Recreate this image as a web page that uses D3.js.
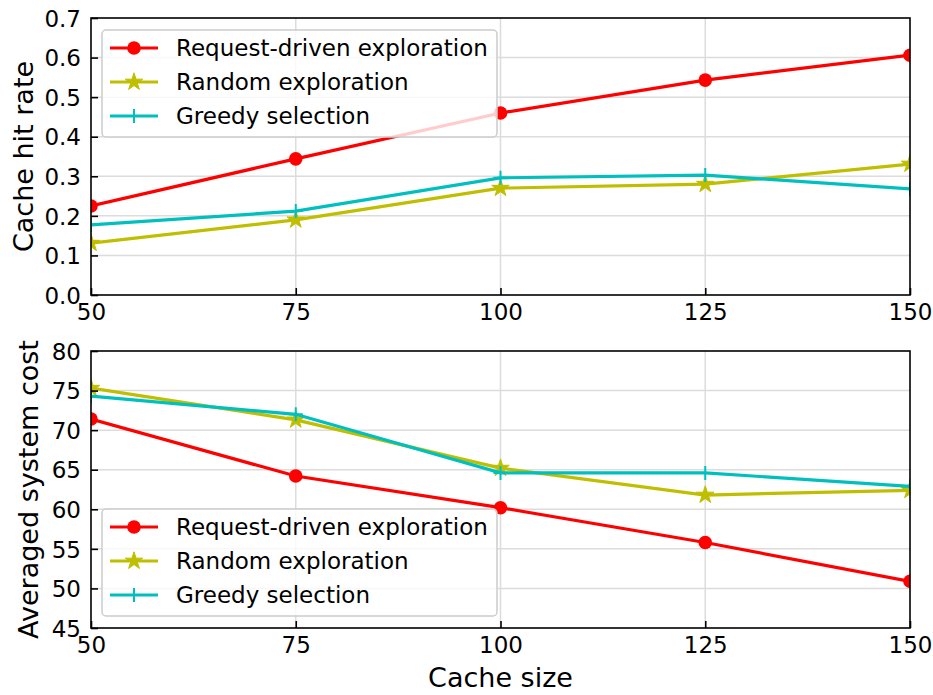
<!DOCTYPE html>
<html>
<head>
<meta charset="utf-8">
<script src="https://cdn.jsdelivr.net/npm/d3@7"></script>
<style>
  body { margin: 0; background: #fff; }
  svg text { font-family: "DejaVu Sans", sans-serif; fill: #000; }
</style>
</head>
<body>
<svg id="chart" width="933" height="695"></svg>
<script>
// data
let cacheSizes = [50, 75, 100, 125, 150]

let hitRequest = [0.225, 0.344, 0.46, 0.543, 0.606]
let hitRandom = [0.131, 0.190, 0.270, 0.280, 0.331]
let hitGreedy = [0.177, 0.212, 0.296, 0.303, 0.268]

let costRequest = [71.4, 64.2, 60.2, 55.8, 50.9]
let costRandom = [75.3, 71.3, 65.2, 61.8, 62.4]
let costGreedy = [74.3, 72.0, 64.6, 64.6, 62.9]

let seriesNames = ['Request-driven exploration', 'Random exploration', 'Greedy selection']
let seriesColors = ['#ff0000', '#bfbf00', '#00bfbf']
let seriesMarkers = ['circle', 'star', 'plus']

let hitTicks = [0, 0.1, 0.2, 0.3, 0.4, 0.5, 0.6, 0.7]
let costTicks = [45, 50, 55, 60, 65, 70, 75, 80]

let svg = d3.select('#chart')

let left = 91, right = 910

let x = d3.scaleLinear().domain([50, 150]).range([left, right])

let drawMarker = (g, type, color, cx, cy) => {
	if(type === 'circle') {
		g.append('circle')
			.attr('cx', cx).attr('cy', cy).attr('r', 6.8)
			.attr('fill', color)
	} else if(type === 'star') {
		g.append('path')
			.attr('d', d3.symbol().type(d3.symbolStar).size(95)())
			.attr('transform', `translate(${cx},${cy})`)
			.attr('fill', color)
			.attr('stroke', color)
			.attr('stroke-width', 1)
	} else {
		g.append('path')
			.attr('d', `M${cx-7},${cy}H${cx+7}M${cx},${cy-7}V${cy+7}`)
			.attr('stroke', color)
			.attr('stroke-width', 2)
	}
}

let drawPanel = (id, top, bottom, domain, ticks, fmt, series, ylabel, labelX, legendY) => {

	let y = d3.scaleLinear().domain(domain).range([bottom, top])

	let g = svg.append('g')

	g.append('clipPath').attr('id', 'clip-' + id)
		.append('rect')
		.attr('x', left).attr('y', top)
		.attr('width', right - left).attr('height', bottom - top)

	// grid
	g.append('g').selectAll('line.gx')
		.data(cacheSizes.slice(1, -1))
		.enter().append('line')
		.attr('x1', d => x(d)).attr('x2', d => x(d))
		.attr('y1', top).attr('y2', bottom)
		.attr('stroke', '#dcdcdc').attr('stroke-width', 1.5)

	g.append('g').selectAll('line.gy')
		.data(ticks.slice(1, -1))
		.enter().append('line')
		.attr('x1', left).attr('x2', right)
		.attr('y1', d => y(d)).attr('y2', d => y(d))
		.attr('stroke', '#dcdcdc').attr('stroke-width', 1.5)

	// series
	let plot = g.append('g').attr('clip-path', `url(#clip-${id})`)

	let line = d3.line()
		.x((d, i) => x(cacheSizes[i]))
		.y(d => y(d))

	series.forEach((s, k) => {
		plot.append('path')
			.attr('d', line(s))
			.attr('fill', 'none')
			.attr('stroke', seriesColors[k])
			.attr('stroke-width', 3.2)
		s.forEach((v, i) => drawMarker(plot, seriesMarkers[k], seriesColors[k], x(cacheSizes[i]), y(v)))
	})

	// frame
	g.append('rect')
		.attr('x', left).attr('y', top)
		.attr('width', right - left).attr('height', bottom - top)
		.attr('fill', 'none').attr('stroke', '#000').attr('stroke-width', 1.6)

	// axes, ticks pointing inward
	let yAxis = d3.axisLeft(y).tickValues(ticks).tickFormat(fmt).tickSizeInner(-7).tickSizeOuter(0)
	let ya = g.append('g').attr('transform', `translate(${left},0)`).call(yAxis)

	let xAxis = d3.axisBottom(x).tickValues(cacheSizes).tickSizeInner(-7).tickSizeOuter(0)
	let xa = g.append('g').attr('transform', `translate(0,${bottom})`).call(xAxis)

	;[ya, xa].forEach(a => {
		a.select('.domain').remove()
		a.selectAll('line').attr('stroke', '#000').attr('stroke-width', 1.6)
		a.selectAll('text').style('font-size', '23px').style('font-family', '"DejaVu Sans", sans-serif')
	})
	ya.selectAll('text').attr('dy', '0.36em').attr('x', -10)
	xa.selectAll('text').attr('dy', '0.75em').attr('y', 8)

	g.append('text')
		.attr('transform', `translate(${labelX},${(top + bottom) / 2}) rotate(-90)`)
		.attr('text-anchor', 'middle')
		.style('font-size', '27px')
		.text(ylabel)

	// legend
	let lg = g.append('g').attr('transform', `translate(102,${legendY})`)
	lg.append('rect')
		.attr('width', 395).attr('height', 107).attr('rx', 4)
		.attr('fill', 'rgba(255,255,255,0.8)')
		.attr('stroke', '#cccccc').attr('stroke-width', 1.5)

	seriesNames.forEach((name, k) => {
		let ry = 18 + k * 34
		lg.append('line')
			.attr('x1', 8).attr('x2', 56).attr('y1', ry).attr('y2', ry)
			.attr('stroke', seriesColors[k]).attr('stroke-width', 3.2)
		drawMarker(lg, seriesMarkers[k], seriesColors[k], 32, ry)
		lg.append('text')
			.attr('x', 74).attr('y', ry).attr('dy', '0.36em')
			.style('font-size', '23px')
			.text(name)
	})
}

drawPanel('hit', 18, 295, [0, 0.7], hitTicks, d3.format('.1f'),
	[hitRequest, hitRandom, hitGreedy], 'Cache hit rate', 33, 30)

drawPanel('cost', 351, 628, [45, 80], costTicks, d3.format('d'),
	[costRequest, costRandom, costGreedy], 'Averaged system cost', 38, 509)

svg.append('text')
	.attr('x', (left + right) / 2).attr('y', 687)
	.attr('text-anchor', 'middle')
	.style('font-size', '27px')
	.text('Cache size')
</script>
</body>
</html>
